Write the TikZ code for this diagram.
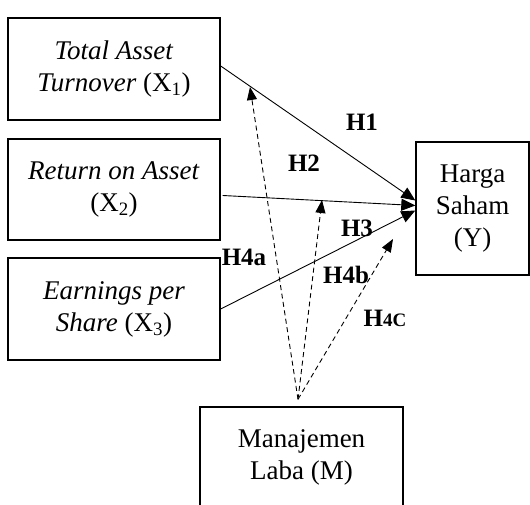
\documentclass[tikz,border=0pt]{standalone}
\usepackage{fontspec}
\setmainfont{Liberation Serif}
\usetikzlibrary{arrows.meta,calc}
\tikzset{
  box/.style={draw,line width=1.4pt,rectangle,align=center,inner sep=0pt,
    font=\fontsize{27}{32}\selectfont},
  lab/.style={font=\fontsize{25}{30}\selectfont\bfseries,inner sep=0pt},
  solidarr/.style={line width=0.9pt,-{Triangle[length=14pt,width=12pt]}},
  dasharr/.style={line width=0.9pt,dash pattern=on 5pt off 3.5pt,-{Triangle[length=13pt,width=10pt]}}
}
\begin{document}
\begin{tikzpicture}[x=1pt,y=-1pt]
\useasboundingbox (0,0) rectangle (530,505);
\clip (0,0) rectangle (530,505);
\node[box,minimum width=212pt,minimum height=102pt] (x1) at (114,69) {\textit{Total Asset}\\\textit{Turnover} (X\textsubscript{1})};
\node[box,minimum width=212pt,minimum height=101pt] (x2) at (114,189.5) {\textit{Return on Asset}\\(X\textsubscript{2})};
\node[box,minimum width=212pt,minimum height=102pt] (x3) at (114,309) {\textit{Earnings per}\\\textit{Share} (X\textsubscript{3})};
\node[box,minimum width=113pt,minimum height=133pt] (y) at (472.5,208.5) {Harga\\Saham\\(Y)};
\node[box,minimum width=203pt,minimum height=100pt] (m) at (301.5,457) {Manajemen\\Laba (M)};
\draw[solidarr] ($(x1.east)+(0,-3)$) -- ($(y.west)+(0,-8)$);
\draw[solidarr] ($(x2.east)+(2,6)$) -- ($(y.west)+(0,-3)$);
\draw[solidarr] (x3.east) -- ($(y.west)+(0,2)$);
\coordinate (ms) at ($(m.north)+(-3.5,-7)$);
\coordinate (ta) at (250,87);
\coordinate (tb) at (322,200);
\coordinate (tc) at (393,239);
\draw[dasharr] (ms) -- (ta);
\draw[dasharr] (ms) -- (tb);
\draw[dasharr] (ms) -- (tc);
\node[lab] (h1) at (362,122) {H1};
\node[lab] (h2) at (304,163) {H2};
\node[lab] (h3) at (357,228) {H3};
\node[lab] (h4a) at (244,257) {H4a};
\node[lab] (h4b) at (346,275) {H4b};
\node[lab,anchor=base] (h4c) at (385,326) {H{\fontsize{19}{19}\selectfont 4C}};
\end{tikzpicture}
\end{document}
